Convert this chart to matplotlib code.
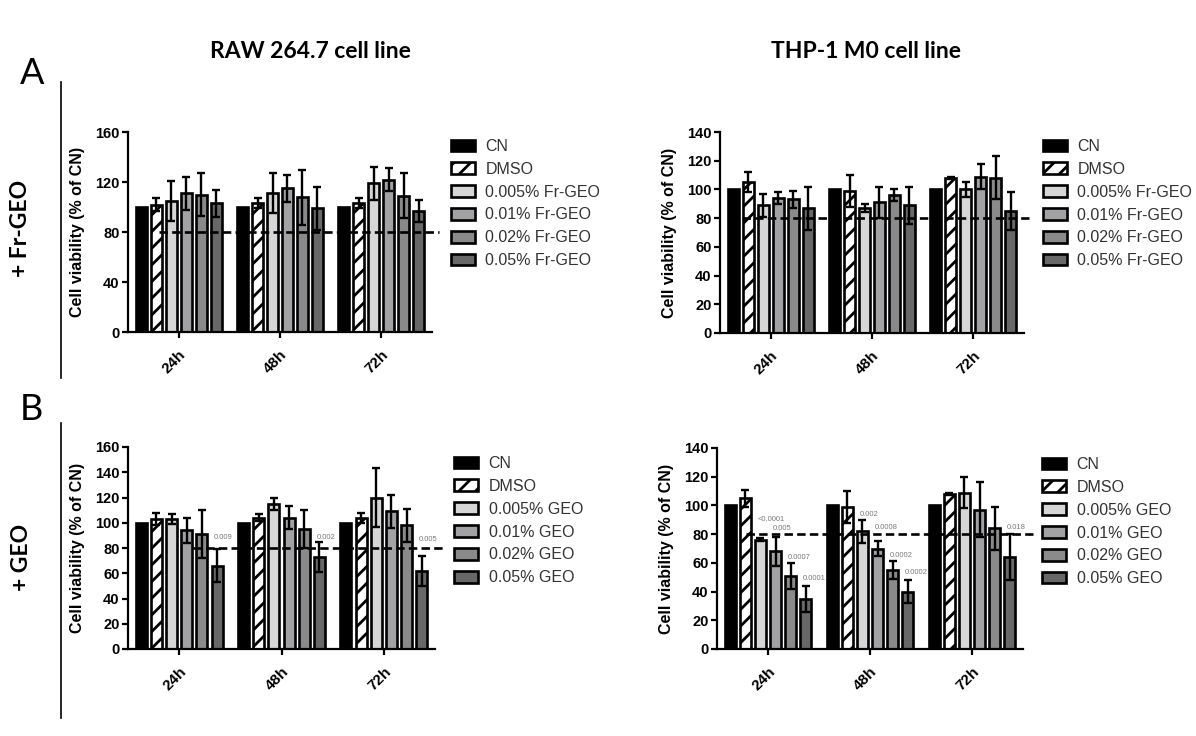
import numpy as np
import matplotlib.pyplot as plt

plt.rcParams['font.family'] = ['Liberation Sans', 'DejaVu Sans']
plt.rcParams['hatch.linewidth'] = 2.0

times = ['24h', '48h', '72h']
frgeo_labels = ['CN', 'DMSO', '0.005% Fr-GEO', '0.01% Fr-GEO', '0.02% Fr-GEO', '0.05% Fr-GEO']
geo_labels = ['CN', 'DMSO', '0.005% GEO', '0.01% GEO', '0.02% GEO', '0.05% GEO']

# mean and SD per time point, series order: CN, DMSO, 0.005%, 0.01%, 0.02%, 0.05%
raw_frgeo_mean = [[100, 102, 105, 111, 110, 103],
                  [100, 103, 111, 115, 108, 99],
                  [100, 103, 119, 122, 109, 97]]
raw_frgeo_sd = [[0, 5, 16, 13, 17, 11],
                [0, 4, 16, 11, 22, 17],
                [0, 4, 13, 9, 18, 9]]

thp_frgeo_mean = [[100, 105, 89, 94, 93, 87],
                  [100, 99, 87, 91, 96, 89],
                  [100, 108, 100, 109, 108, 85]]
thp_frgeo_sd = [[0, 7, 8, 4, 6, 15],
                [0, 11, 3, 11, 4, 13],
                [0, 1, 5, 9, 15, 13]]

raw_geo_mean = [[100, 103, 103, 94, 91, 66],
                [100, 104, 115, 104, 95, 73],
                [100, 104, 120, 109, 98, 62]]
raw_geo_sd = [[0, 5, 4, 10, 19, 13],
              [0, 3, 5, 9, 15, 12],
              [0, 4, 23, 13, 13, 12]]

thp_geo_mean = [[100, 105, 76, 68, 51, 35],
                [100, 99, 82, 70, 55, 40],
                [100, 108, 109, 97, 84, 64]]
thp_geo_sd = [[0, 6, 1, 10, 9, 9],
              [0, 11, 8, 5, 6, 8],
              [0, 1, 11, 19, 15, 16]]

# p-values vs CN: (time index, series index, label)
raw_geo_p = [(0, 5, '0.009'), (1, 5, '0.002'), (2, 5, '0.005')]
thp_geo_p = [(0, 2, '<0.0001'), (0, 3, '0.005'), (0, 4, '0.0007'), (0, 5, '0.0001'),
             (1, 2, '0.002'), (1, 3, '0.0008'), (1, 4, '0.0002'), (1, 5, '0.0002'),
             (2, 5, '0.018')]
# height (in % of CN) at which each p-value is written
raw_geo_p_y = [88, 88.5, 86.5]
thp_geo_p_y = [90, 84, 64, 49, 93.5, 84.5, 65, 53, 84.5]

fills = ['black', 'white', '#d6d6d6', '#a2a2a4', '#8a8a8a', '#686868']
hatches = [None, '//', None, None, None, None]

W, H = 1196, 736
fig = plt.figure(figsize=(W / 100, H / 100), dpi=100)


def px_axes(x0, y0, x1, y1):
    return fig.add_axes([x0 / W, 1 - y1 / H, (x1 - x0) / W, (y1 - y0) / H])


def panel(ax, means, sds, labels, ymax, ystep, dash_x, legend_top,
          pvals=(), pvals_y=()):
    means = np.array(means)
    sds = np.array(sds)
    x = np.arange(len(times))
    pitch, width = 0.148, 0.108
    for i in range(6):
        xs = x + (i - 2.5) * pitch
        ax.bar(xs, means[:, i], width, color=fills[i], edgecolor='black',
               linewidth=1.9, hatch=hatches[i], label=labels[i], zorder=2)
        if i > 0:
            ax.errorbar(xs, means[:, i], yerr=sds[:, i], fmt='none', ecolor='black',
                        elinewidth=1.7, capsize=3.2, capthick=1.7, zorder=3)
    for (t, i, txt), yl in zip(pvals, pvals_y):
        xl = t + (i - 2.5) * pitch - 0.03
        ax.text(xl, yl, txt, fontsize=5.5, color='#7a7a7a',
                ha='left', va='center', zorder=4)
    line, = ax.plot(dash_x, [80, 80], color='black', lw=1.9, clip_on=False, zorder=4)
    line.set_dashes((3.2, 1.6))

    ax.set_xlim(-0.5, 2.5)
    ax.set_ylim(0, ymax)
    ax.set_yticks(np.arange(0, ymax + 1, ystep))
    ax.set_xticks(x)
    ax.set_xticklabels(times, rotation=45, ha='right', rotation_mode='anchor',
                       fontsize=11, fontweight='bold')
    for lab in ax.get_yticklabels():
        lab.set_fontsize(10.5)
        lab.set_fontweight('bold')
    for s in ['top', 'right']:
        ax.spines[s].set_visible(False)
    for s in ['left', 'bottom']:
        ax.spines[s].set_linewidth(1.6)
    ax.tick_params(axis='both', width=1.6, length=4, pad=2)
    ax.tick_params(axis='x', pad=7)
    ax.set_ylabel('Cell viability (% of CN)', fontsize=11.5, fontweight='bold')
    ax.yaxis.set_label_coords(-0.14, 0.5)
    ax.legend(loc='upper left', bbox_to_anchor=(1.063, legend_top), frameon=False,
              fontsize=11.5, handlelength=1.5, handleheight=0.75, handletextpad=0.65,
              labelspacing=0.49, borderaxespad=0, borderpad=0, labelcolor='#333333')


ax1 = px_axes(128, 132, 432, 332)
panel(ax1, raw_frgeo_mean, raw_frgeo_sd, frgeo_labels, 160, 40, [-0.19, 2.57], 0.965)
ax2 = px_axes(720, 132, 1024, 333)
panel(ax2, thp_frgeo_mean, thp_frgeo_sd, frgeo_labels, 140, 20, [-0.28, 2.55], 0.965)
ax3 = px_axes(128, 447, 435, 649)
panel(ax3, raw_geo_mean, raw_geo_sd, geo_labels, 160, 20, [0.14, 2.61], 0.955,
      raw_geo_p, raw_geo_p_y)
ax4 = px_axes(717, 448, 1023, 649)
panel(ax4, thp_geo_mean, thp_geo_sd, geo_labels, 140, 20, [-0.22, 2.6], 0.955,
      thp_geo_p, thp_geo_p_y)

head = dict(fontsize=16.5, fontweight='bold', family=['Lato', 'DejaVu Sans'])
fig.text(310 / W, 1 - 52 / H, 'RAW 264.7 cell line', ha='center', va='center', **head)
fig.text(866 / W, 1 - 52 / H, 'THP-1 M0 cell line', ha='center', va='center', **head)
fig.text(21 / W, 1 - 228 / H, '+ Fr-GEO', rotation=90, ha='center', va='center', **head)
fig.text(21 / W, 1 - 557 / H, '+ GEO', rotation=90, ha='center', va='center', **head)
fig.text(32 / W, 1 - 73 / H, 'A', fontsize=26, ha='center', va='center',
         family=['Lato', 'DejaVu Sans'])
fig.text(31 / W, 1 - 409 / H, 'B', fontsize=26, ha='center', va='center',
         family=['Lato', 'DejaVu Sans'])
fig.add_artist(plt.Line2D([61 / W, 61 / W], [1 - 82 / H, 1 - 378 / H], color='black', lw=1.2))
fig.add_artist(plt.Line2D([61 / W, 61 / W], [1 - 423 / H, 1 - 718 / H], color='black', lw=1.2))

fig.savefig('out.png', dpi=100)
